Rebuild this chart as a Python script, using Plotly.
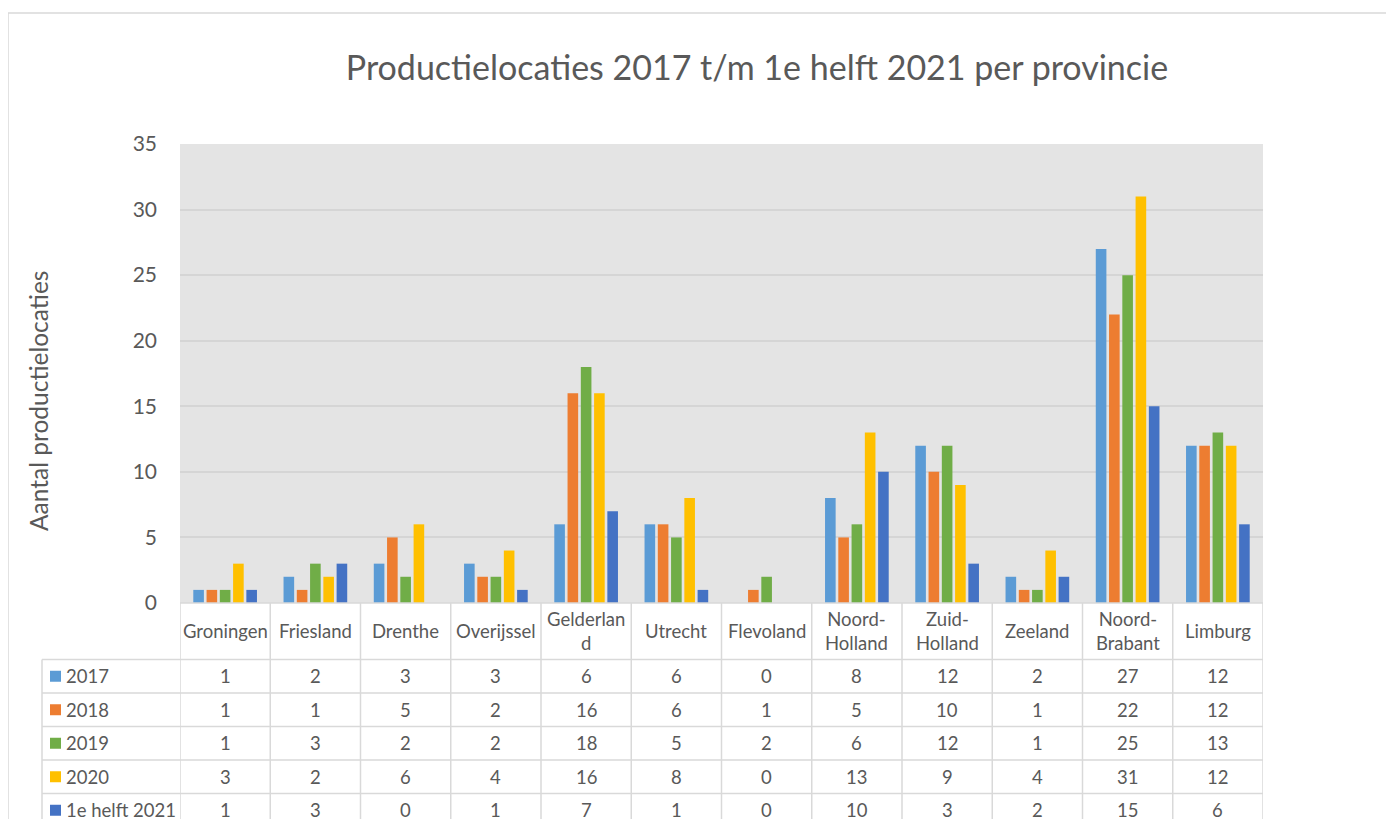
import plotly.graph_objects as go

provinces = ["Groningen", "Friesland", "Drenthe", "Overijssel", "Gelderland", "Utrecht",
             "Flevoland", "Noord-Holland", "Zuid-Holland", "Zeeland", "Noord-Brabant", "Limburg"]
header_labels = ["Groningen", "Friesland", "Drenthe", "Overijssel", "Gelderlan<br>d", "Utrecht",
                 "Flevoland", "Noord-<br>Holland", "Zuid-<br>Holland", "Zeeland", "Noord-<br>Brabant", "Limburg"]

series_names = ["2017", "2018", "2019", "2020", "1e helft 2021"]
v2017 = [1, 2, 3, 3, 6, 6, 0, 8, 12, 2, 27, 12]
v2018 = [1, 1, 5, 2, 16, 6, 1, 5, 10, 1, 22, 12]
v2019 = [1, 3, 2, 2, 18, 5, 2, 6, 12, 1, 25, 13]
v2020 = [3, 2, 6, 4, 16, 8, 0, 13, 9, 4, 31, 12]
v2021h1 = [1, 3, 0, 1, 7, 1, 0, 10, 3, 2, 15, 6]
series_values = [v2017, v2018, v2019, v2020, v2021h1]
colors = ["#5B9BD5", "#ED7D31", "#70AD47", "#FFC000", "#4472C4"]

y_ticks = [0, 5, 10, 15, 20, 25, 30, 35]

# the page body has an 8px margin, so the figure is shifted by that amount
OFF = 8
W, H = 1394 - OFF, 819 - OFF
# plot area in screen pixels
L, R, T, B = 180, 1263, 144, 603
FONT = "Lato, 'Open Sans', sans-serif"
TXT = "#595959"
LINE = "#D9D9D9"


def xp(x):
    return (x - L) / (R - L)


def yp(y):
    return (B - y) / (B - T)


fig = go.Figure()
for name, vals, col in zip(series_names, series_values, colors):
    fig.add_trace(go.Bar(x=provinces, y=vals, name=name, marker_color=col,
                         marker_line_width=0, showlegend=False))

shapes = []
annotations = []

# outer chart border
shapes.append(dict(type="rect", xref="paper", yref="paper", x0=xp(8), x1=xp(1420),
                   y0=yp(13), y1=yp(840), line=dict(color=LINE, width=1.5)))

# data table grid
row_tops = [659.5, 693, 726.5, 760, 793.5]
row_h = 33.5
shapes.append(dict(type="line", xref="paper", yref="paper", x0=0, x1=1, y0=0, y1=0,
                   line=dict(color=LINE, width=1.5)))
for yt in row_tops:
    shapes.append(dict(type="line", xref="paper", yref="paper", x0=xp(42), x1=1,
                       y0=yp(yt), y1=yp(yt), line=dict(color=LINE, width=1.5)))
shapes.append(dict(type="line", xref="paper", yref="paper", x0=xp(42), x1=xp(42),
                   y0=yp(659.5), y1=yp(840), line=dict(color=LINE, width=1.5)))
for k in range(len(provinces) + 1):
    shapes.append(dict(type="line", xref="x", yref="paper", x0=k - 0.5, x1=k - 0.5,
                       y0=0, y1=yp(840), line=dict(color=LINE, width=1.5)))

# header row
for p, lab in zip(provinces, header_labels):
    annotations.append(dict(x=p, xref="x", y=yp(631), yref="paper", text=lab,
                            showarrow=False, yanchor="middle",
                            font=dict(size=18.5, color=TXT, family=FONT)))

# value rows with legend keys
for i, (name, vals, col) in enumerate(zip(series_names, series_values, colors)):
    yc = row_tops[i] + row_h / 2
    shapes.append(dict(type="rect", xref="paper", yref="paper", x0=xp(50), x1=xp(61),
                       y0=yp(yc - 5.5), y1=yp(yc + 5.5), fillcolor=col, line_width=0))
    annotations.append(dict(x=xp(64), xref="paper", y=yp(yc), yref="paper", text=name,
                            showarrow=False, xanchor="left", yanchor="middle",
                            font=dict(size=18.5, color=TXT, family=FONT)))
    for p, v in zip(provinces, vals):
        annotations.append(dict(x=p, xref="x", y=yp(yc), yref="paper", text=str(v),
                                showarrow=False, yanchor="middle",
                                font=dict(size=18.5, color=TXT, family=FONT)))

# y axis title
annotations.append(dict(x=xp(38), xref="paper", y=yp(401), yref="paper",
                        text="Aantal productielocaties", textangle=-90, showarrow=False,
                        xanchor="center", yanchor="middle",
                        font=dict(size=24.5, color=TXT, family=FONT)))

fig.update_layout(
    width=W, height=H,
    margin=dict(l=L - OFF, r=W - (R - OFF), t=T - OFF, b=H - (B - OFF), pad=0),
    paper_bgcolor="white", plot_bgcolor="#E4E4E4",
    barmode="group", bargap=0.265, bargroupgap=0.2,
    title=dict(text="Productielocaties 2017 t/m 1e helft 2021 per provincie",
               x=xp(757), xref="paper", xanchor="center",
               y=1 - (68 - OFF) / H, yref="container", yanchor="middle",
               font=dict(size=34, color=TXT, family=FONT)),
    shapes=shapes, annotations=annotations,
)
fig.update_xaxes(showticklabels=False, showgrid=False, zeroline=False, showline=False,
                 range=[-0.5, len(provinces) - 0.5])
fig.update_yaxes(range=[0, 35], tickvals=y_ticks, showgrid=True, gridcolor="#D5D5D5",
                 gridwidth=1.5, zeroline=False, showline=False, ticks="",
                 ticklabelstandoff=22,
                 tickfont=dict(size=21, color=TXT, family=FONT))

fig.write_html("out.html")
